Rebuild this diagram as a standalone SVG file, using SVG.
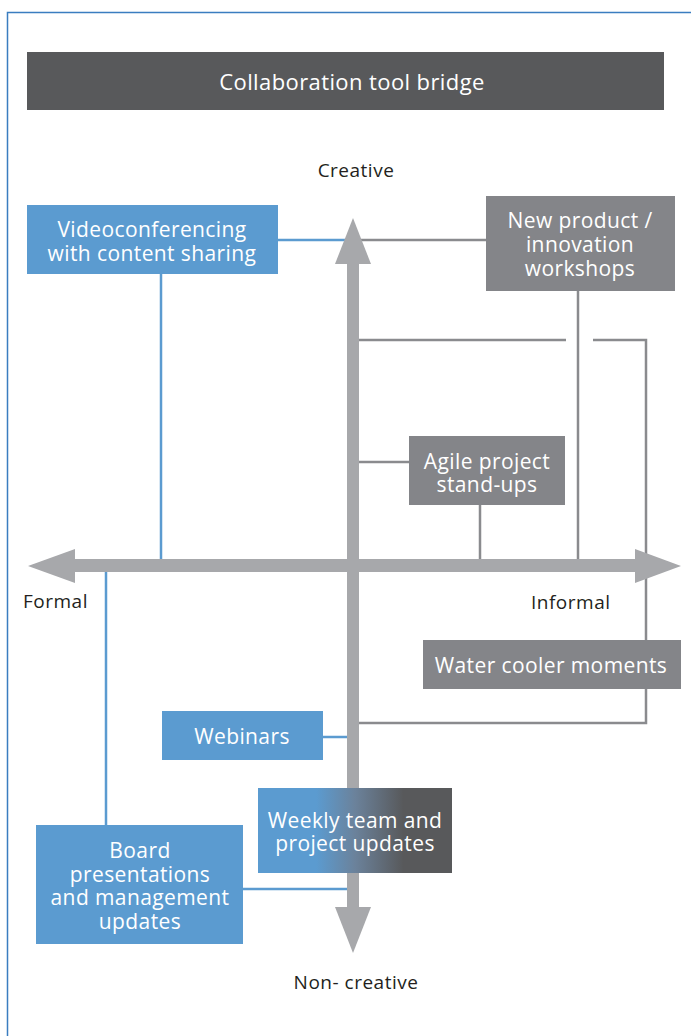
<svg xmlns="http://www.w3.org/2000/svg" width="691" height="1036" viewBox="0 0 691 1036">
<style>
.t{font-family:"Open Sans","Noto Sans",sans-serif;font-size:21px;letter-spacing:0.4px;fill:#ffffff;text-anchor:middle}
.lbl{font-family:"Open Sans","Noto Sans",sans-serif;font-size:19px;letter-spacing:0.5px;fill:#231f20}
.blue{fill:#5b9bd0}
.gray{fill:#848589}
.bl{stroke:#5b9bd0;stroke-width:2.5;fill:none}
.gl{stroke:#8a8b8e;stroke-width:2.5;fill:none}
.ax{fill:#a7a8ab}
</style>
<defs>
<linearGradient id="wg" x1="0" y1="0" x2="1" y2="0">
<stop offset="0.3" stop-color="#5b9bd0"/>
<stop offset="0.5" stop-color="#6b829b"/>
<stop offset="0.75" stop-color="#58595b"/>
<stop offset="1" stop-color="#58595b"/>
</linearGradient>
</defs>
<rect width="691" height="1036" fill="#ffffff"/>
<path d="M7.5 1036 V12.5 H691" stroke="#3a7dc0" stroke-width="1.5" fill="none"/>
<g id="title">
<rect x="27" y="52" width="637" height="58" fill="#58595b"/>
<text class="t" x="352" y="90" style="font-size:22px">Collaboration tool bridge</text>
</g>
<g id="connectors">
<line class="bl" x1="278" y1="240" x2="348" y2="240"/>
<line class="gl" x1="358" y1="240" x2="486" y2="240"/>
<line class="bl" x1="161" y1="274" x2="161" y2="561"/>
<line class="gl" x1="578" y1="291" x2="578" y2="561"/>
<polyline class="gl" points="358,340 566,340"/>
<polyline class="gl" points="593,340 646,340 646,723 358,723"/>
<line class="gl" x1="358" y1="462" x2="409" y2="462"/>
<line class="gl" x1="480" y1="505" x2="480" y2="561"/>
<line class="bl" x1="106" y1="571" x2="106" y2="825"/>
<line class="bl" x1="323" y1="737" x2="348" y2="737"/>
<line class="bl" x1="243" y1="889" x2="348" y2="889"/>
</g>
<g id="axes">
<rect class="ax" x="347" y="262" width="12" height="648"/>
<polygon class="ax" points="353,218 371,264 335,264"/>
<polygon class="ax" points="353,953 371,907 335,907"/>
<rect class="ax" x="73" y="559" width="564" height="13"/>
<polygon class="ax" points="28,566 75,549 75,583"/>
<polygon class="ax" points="681,566 635,549 635,583"/>
</g>
<g id="labels">
<text class="lbl" x="356" y="177" text-anchor="middle">Creative</text>
<text class="lbl" x="23" y="608">Formal</text>
<text class="lbl" x="531" y="609">Informal</text>
<text class="lbl" x="356" y="989" text-anchor="middle">Non- creative</text>
</g>
<g id="videoconf">
<rect class="blue" x="27" y="205" width="251" height="69"/>
<text class="t" x="152" y="237">Videoconferencing</text>
<text class="t" x="152" y="261">with content sharing</text>
</g>
<g id="newproduct">
<rect class="gray" x="486" y="196" width="189" height="95"/>
<text class="t" x="580" y="228">New product /</text>
<text class="t" x="580" y="252">innovation</text>
<text class="t" x="580" y="276">workshops</text>
</g>
<g id="agile">
<rect class="gray" x="409" y="436" width="156" height="69"/>
<text class="t" x="487" y="469">Agile project</text>
<text class="t" x="487" y="492">stand-ups</text>
</g>
<g id="watercooler">
<rect class="gray" x="423" y="640" width="258" height="49"/>
<text class="t" x="551" y="673">Water cooler moments</text>
</g>
<g id="webinars">
<rect class="blue" x="162" y="711" width="161" height="49"/>
<text class="t" x="242" y="744">Webinars</text>
</g>
<g id="weekly">
<rect x="258" y="788" width="194" height="85" fill="url(#wg)"/>
<text class="t" x="355" y="828">Weekly team and</text>
<text class="t" x="355" y="851">project updates</text>
</g>
<g id="board">
<rect class="blue" x="36" y="825" width="207" height="119"/>
<text class="t" x="140" y="858">Board</text>
<text class="t" x="140" y="882">presentations</text>
<text class="t" x="140" y="905">and management</text>
<text class="t" x="140" y="929">updates</text>
</g>
</svg>
